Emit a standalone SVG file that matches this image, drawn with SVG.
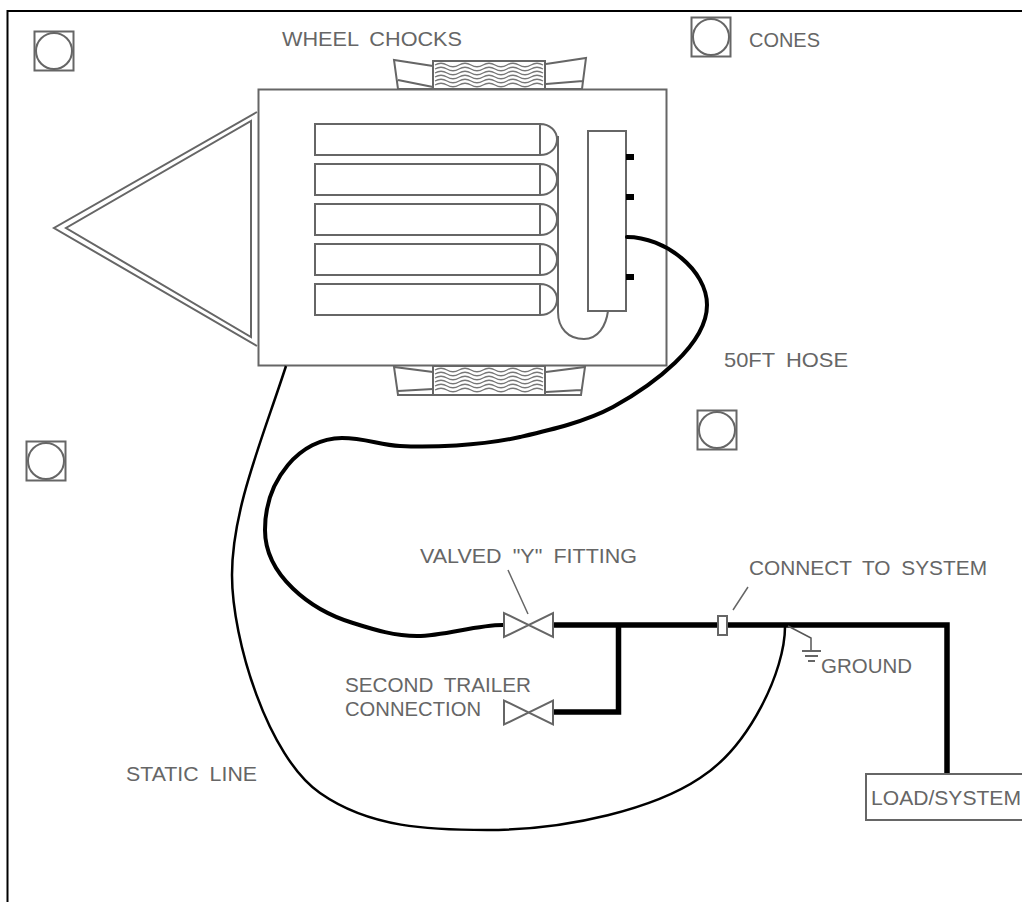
<svg xmlns="http://www.w3.org/2000/svg" width="1022" height="902" viewBox="0 0 1022 902">
<style>
.l{fill:none;stroke:#666;stroke-width:2}
.f{fill:#fff;stroke:#666;stroke-width:2}
.h{fill:none;stroke:#000;stroke-width:4;stroke-linejoin:round;stroke-linecap:round}
.p{fill:none;stroke:#000;stroke-width:5.5;stroke-linejoin:miter}
.w{fill:none;stroke:#777;stroke-width:1.300}
.t{font-family:"Liberation Sans",Arial,sans-serif;font-size:21px;fill:#666;word-spacing:5px}
</style>
<defs>
<g id="cone"><rect x="0.5" y="0.5" width="39" height="39" class="l"/><circle cx="20" cy="20" r="18" class="l"/></g>
<path id="wave" d="M0 0q6 -3.500 12 0t12 0t12 0t12 0t12 0t12 0t12 0t12 0t12 0"/>
<g id="hatch" class="w">
<use href="#wave" y="4"/><use href="#wave" y="8"/><use href="#wave" y="12"/><use href="#wave" y="16"/><use href="#wave" y="20"/><use href="#wave" y="24"/>
</g>
<g id="valve"><path d="M504 -12V12L553 -12V12Z" class="l"/></g>
</defs>
<rect width="1022" height="902" fill="#fff"/>
<path d="M7.500 902V11H1022" fill="none" stroke="#000" stroke-width="2"/>
<g id="chock-top">
<path d="M433 66L394 60L398 89H433M398 80L433 87" class="l"/>
<path d="M546 64L586 58L582 89H546M546 84L583 81" class="l"/>
<rect x="433" y="61" width="112" height="28" class="l"/>
<use href="#hatch" x="435" y="61"/>
</g>
<g id="chock-bottom">
<path d="M433 372L394 367L398 395H433M398 391L433 389" class="l"/>
<path d="M546 372L585 367L581 395H546M546 392L581 390" class="l"/>
<rect x="433" y="366" width="112" height="29" class="l"/>
<use href="#hatch" x="435" y="366"/>
</g>
<g id="trailer"><path d="M258.500 89.500H666.500V365.500H258.500Z" class="l"/></g>
<g id="hitch"><path d="M257 112L54 228L257 346" class="l"/><path d="M251 121V337L66 228Z" class="l"/></g>
<g id="tubes">
<path d="M540 124H315V155H540M540 124C550 124 557 131 557 139.500C557 148 550 155 540 155V124Z" class="l"/>
<path d="M540 164H315V195H540M540 164C550 164 557 171 557 179.500C557 188 550 195 540 195V164Z" class="l"/>
<path d="M540 204H315V235H540M540 204C550 204 557 211 557 219.500C557 228 550 235 540 235V204Z" class="l"/>
<path d="M540 244H315V275H540M540 244C550 244 557 251 557 259.500C557 268 550 275 540 275V244Z" class="l"/>
<path d="M540 284H315V315H540M540 284C550 284 557 291 557 299.500C557 308 550 315 540 315V284Z" class="l"/>
</g>
<g id="manifold-pipe"><path d="M558 136V312C558 328 568 339 584 339C598 339 606 326 608 311" class="l"/></g>
<g id="manifold"><rect x="588" y="131" width="38" height="180" class="f"/>
<rect x="626" y="154" width="8" height="6"/><rect x="626" y="194" width="8" height="6"/><rect x="626" y="274" width="8" height="6"/></g>
<use id="cone-1" href="#cone" x="34" y="31"/>
<use id="cone-2" href="#cone" x="691" y="17"/>
<use id="cone-3" href="#cone" x="697" y="410"/>
<use id="cone-4" href="#cone" x="26" y="441"/>
<g id="connectors">
<path class="h" d="M627 237C665 237 707 270 707 305C707 345 653 385 613 407C585 422 550 430 520 437C480 446 430 447.500 400 446C380 445 365 438 342 438C300 438 265 480 265 530C265 575 310 610 353 623C375 630 395 636 417 636C445 636 475 625 503 625"/>
<path d="M286 366C262 440 232 510 232 575C232 640 268 757 320 793C370 828 430 830 487 830C570 830 655 808 700 778C750 746 785 670 785 627" fill="none" stroke="#000" stroke-width="2.500"/>
<path class="p" d="M553 625H947V773"/>
<path class="p" d="M618.500 625V712H553"/>
<path d="M508 570L528 614M733 610L748 587" fill="none" stroke="#666" stroke-width="1.500"/>
<path d="M788 626L811 638V651" fill="none" stroke="#555" stroke-width="1.500"/>
</g>
<g id="valve-1" transform="translate(0 625)"><use href="#valve"/></g>
<g id="valve-2" transform="translate(0 712.500)"><use href="#valve"/></g>
<g id="coupler"><rect x="718" y="616" width="9" height="19" class="f"/></g>
<g id="ground"><path d="M802 651H821M805 656H818M808 661H815" class="l" stroke-width="1.500"/></g>
<g id="load"><rect x="866" y="774" width="160" height="46" class="f"/></g>
<g id="labels">
<text class="t" x="282" y="46" textLength="180" lengthAdjust="spacingAndGlyphs">WHEEL CHOCKS</text>
<text class="t" x="749" y="47" textLength="71" lengthAdjust="spacingAndGlyphs">CONES</text>
<text class="t" x="724" y="367" textLength="124" lengthAdjust="spacingAndGlyphs">50FT HOSE</text>
<text class="t" x="420" y="563" textLength="217" lengthAdjust="spacingAndGlyphs">VALVED "Y" FITTING</text>
<text class="t" x="749" y="575" textLength="238" lengthAdjust="spacingAndGlyphs">CONNECT TO SYSTEM</text>
<text class="t" x="821" y="673" textLength="91" lengthAdjust="spacingAndGlyphs">GROUND</text>
<text class="t" x="345" y="692" textLength="186" lengthAdjust="spacingAndGlyphs">SECOND TRAILER</text>
<text class="t" x="345" y="716" textLength="136" lengthAdjust="spacingAndGlyphs">CONNECTION</text>
<text class="t" x="126" y="781" textLength="131" lengthAdjust="spacingAndGlyphs">STATIC LINE</text>
<text class="t" x="871" y="805" textLength="150" lengthAdjust="spacingAndGlyphs">LOAD/SYSTEM</text>
</g>
</svg>
